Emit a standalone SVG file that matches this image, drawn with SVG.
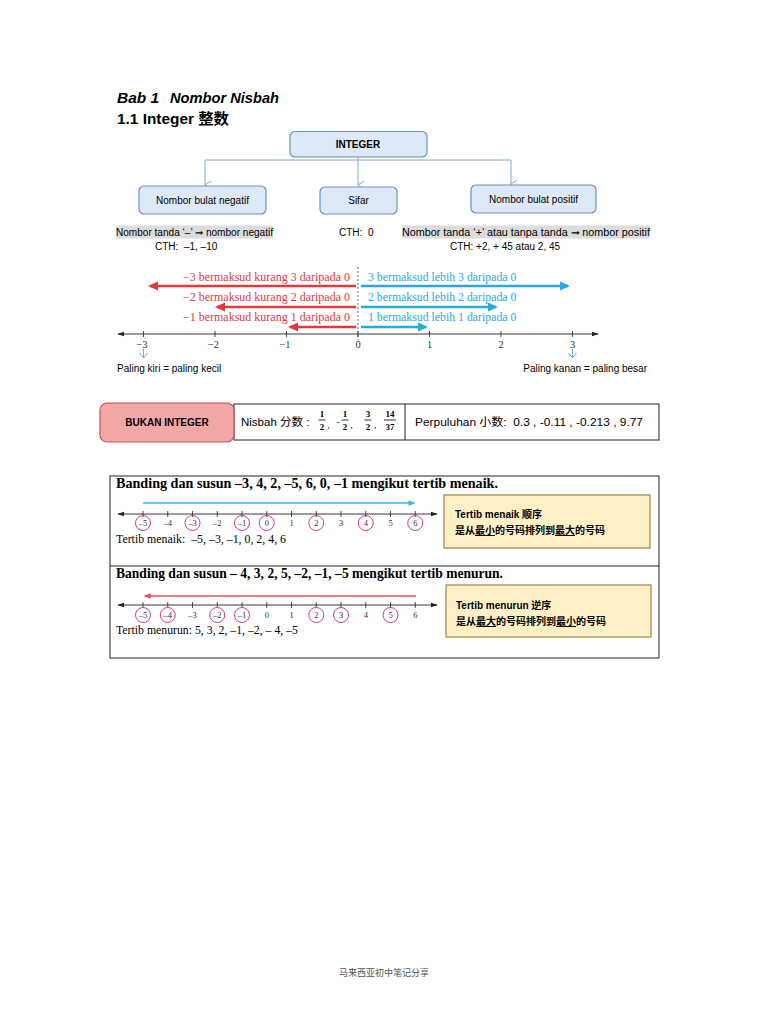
<svg xmlns="http://www.w3.org/2000/svg" width="768" height="1024" viewBox="0 0 768 1024">
<style>
.sans{font-family:"Liberation Sans",Arial,"Noto Sans CJK SC",sans-serif}
.serif{font-family:"Liberation Serif","Times New Roman","Noto Sans CJK SC",serif}
.cjk{font-family:"Liberation Sans","Noto Sans CJK SC",sans-serif}
.bluebox{fill:#dde9f6;stroke:#6a8fbd;stroke-width:1.2}
.conn{stroke:#7fa7d4;stroke-width:1;fill:none}
.axis{stroke:#222;stroke-width:0.9;fill:none}
.tick{stroke:#222;stroke-width:0.8}
.circ{fill:none;stroke:#c93f8f;stroke-width:1}
.ybox{fill:#fdf0c6;stroke:#a48c4e;stroke-width:1.3}
</style>
<defs>
<marker id="openarr" viewBox="0 0 10 10" refX="5" refY="9" markerWidth="10" markerHeight="10" markerUnits="userSpaceOnUse" orient="auto-start-reverse">
<path d="M1,3 L5,9 L9,3" fill="none" stroke="#7fa7d4" stroke-width="1"/>
</marker>
<marker id="ax" viewBox="0 0 10 10" refX="9" refY="5" markerWidth="7" markerHeight="7" markerUnits="userSpaceOnUse" orient="auto-start-reverse">
<path d="M0,1.5 L10,5 L0,8.5 Z" fill="#222"/>
</marker>
<marker id="redhead" viewBox="0 0 10 10" refX="8" refY="5" markerWidth="10" markerHeight="10" markerUnits="userSpaceOnUse" orient="auto">
<path d="M0,0.5 L10,5 L0,9.5 Z" fill="#e03a3e"/>
</marker>
<marker id="bluehead" viewBox="0 0 10 10" refX="8" refY="5" markerWidth="10" markerHeight="10" markerUnits="userSpaceOnUse" orient="auto">
<path d="M0,0.5 L10,5 L0,9.5 Z" fill="#2aa8df"/>
</marker>
<marker id="smallblue" viewBox="0 0 10 10" refX="8" refY="5" markerWidth="7" markerHeight="7" markerUnits="userSpaceOnUse" orient="auto">
<path d="M0,1 L10,5 L0,9 Z" fill="#3cb4dc"/>
</marker>
<marker id="smallred" viewBox="0 0 10 10" refX="8" refY="5" markerWidth="7" markerHeight="7" markerUnits="userSpaceOnUse" orient="auto">
<path d="M0,1 L10,5 L0,9 Z" fill="#e35050"/>
</marker>
</defs>
<rect width="768" height="1024" fill="#fff"/>

<!-- Titles -->
<text x="117" y="103" class="sans" font-size="15.5" font-weight="bold" font-style="italic">Bab 1</text>
<text x="170" y="103" class="sans" font-size="15.5" font-weight="bold" font-style="italic" textLength="109" lengthAdjust="spacingAndGlyphs">Nombor Nisbah</text>
<text x="117" y="124" class="cjk" font-size="15" font-weight="bold" textLength="112" lengthAdjust="spacingAndGlyphs">1.1 Integer 整数</text>

<!-- Connectors -->
<g id="connectors">
<path class="conn" d="M358,157 V160 M205,160 H511"/>
<path class="conn" d="M205,160 V185" marker-end="url(#openarr)"/>
<path class="conn" d="M358,160 V185" marker-end="url(#openarr)"/>
<path class="conn" d="M511,160 V184" marker-end="url(#openarr)"/>
</g>

<g id="node-integer">
<rect x="290" y="131.5" width="137" height="25.5" rx="5" class="bluebox"/>
<text x="358" y="148" text-anchor="middle" class="sans" font-size="10" font-weight="bold">INTEGER</text>
</g>
<g id="node-negatif">
<rect x="139" y="186" width="127" height="28" rx="5" class="bluebox"/>
<text x="202.5" y="203.5" text-anchor="middle" class="sans" font-size="10">Nombor bulat negatif</text>
</g>
<g id="node-sifar">
<rect x="320" y="187" width="77" height="27" rx="5" class="bluebox"/>
<text x="358.5" y="204" text-anchor="middle" class="sans" font-size="10">Sifar</text>
</g>
<g id="node-positif">
<rect x="471" y="185" width="125" height="28" rx="5" class="bluebox"/>
<text x="533.5" y="202.5" text-anchor="middle" class="sans" font-size="10">Nombor bulat positif</text>
</g>

<!-- descriptions -->
<g id="desc">
<rect x="116" y="225.5" width="157" height="13" fill="#dcdcdc"/>
<text x="116" y="236" class="sans" font-size="10" textLength="157" lengthAdjust="spacingAndGlyphs">Nombor tanda ‘–’ ➞ nombor negatif</text>
<text x="155" y="250" class="sans" font-size="10" xml:space="preserve">CTH:  –1, –10</text>
<text x="339" y="236" class="sans" font-size="10" xml:space="preserve">CTH:  0</text>
<rect x="402" y="225.5" width="248" height="13" fill="#dcdcdc"/>
<text x="402" y="236" class="sans" font-size="10" textLength="248" lengthAdjust="spacingAndGlyphs">Nombor tanda ‘+’ atau tanpa tanda ➞ nombor positif</text>
<text x="450" y="250" class="sans" font-size="10">CTH: +2, + 45 atau 2, 45</text>
</g>

<!-- number line meaning -->
<g id="numberline1">
<line x1="358" y1="267" x2="358" y2="340" stroke="#555" stroke-width="0.9" stroke-dasharray="2,2"/>
<g class="serif" font-size="12" fill="#e03a3e" text-anchor="end">
<text x="350" y="281">−3 bermaksud kurang 3 daripada 0</text>
<text x="350" y="301">−2 bermaksud kurang 2 daripada 0</text>
<text x="350" y="321">−1 bermaksud kurang 1 daripada 0</text>
</g>
<g class="serif" font-size="11.8" fill="#2aa8df">
<text x="368" y="281">3 bermaksud lebih 3 daripada 0</text>
<text x="368" y="301">2 bermaksud lebih 2 daripada 0</text>
<text x="368" y="321">1 bermaksud lebih 1 daripada 0</text>
</g>
<g stroke="#e03a3e" stroke-width="2.6">
<line x1="356" y1="286" x2="150" y2="286" marker-end="url(#redhead)"/>
<line x1="356" y1="307" x2="217" y2="307" marker-end="url(#redhead)"/>
<line x1="356" y1="327" x2="290" y2="327" marker-end="url(#redhead)"/>
</g>
<g stroke="#2aa8df" stroke-width="2.6">
<line x1="361" y1="286" x2="568" y2="286" marker-end="url(#bluehead)"/>
<line x1="361" y1="307" x2="496" y2="307" marker-end="url(#bluehead)"/>
<line x1="361" y1="327" x2="426" y2="327" marker-end="url(#bluehead)"/>
</g>
<line x1="118" y1="334" x2="598" y2="334" class="axis" marker-start="url(#ax)" marker-end="url(#ax)"/>
<g class="tick">
<line x1="143.5" y1="331" x2="143.5" y2="337"/>
<line x1="215" y1="331" x2="215" y2="337"/>
<line x1="286.5" y1="331" x2="286.5" y2="337"/>
<line x1="358" y1="331" x2="358" y2="337"/>
<line x1="429.5" y1="331" x2="429.5" y2="337"/>
<line x1="501" y1="331" x2="501" y2="337"/>
<line x1="572.5" y1="331" x2="572.5" y2="337"/>
</g>
<g class="serif" font-size="10.5" fill="#333" text-anchor="middle">
<text x="142" y="348">−3</text>
<text x="213.5" y="348">−2</text>
<text x="285" y="348">−1</text>
<text x="358" y="348">0</text>
<text x="429.5" y="348">1</text>
<text x="501" y="348">2</text>
<text x="572.5" y="348">3</text>
</g>
<g stroke="#7fa7d4" stroke-width="1" fill="none">
<path d="M143.5,349 V358 M139.5,353 L143.5,358 L147.5,353"/>
<path d="M572.5,349 V358 M568.5,353 L572.5,358 L576.5,353"/>
</g>
<text x="117" y="372" class="sans" font-size="10">Paling kiri = paling kecil</text>
<text x="647" y="372" class="sans" font-size="10" text-anchor="end">Paling kanan = paling besar</text>
</g>

<!-- Bukan integer -->
<g id="node-bukan">
<rect x="234" y="404" width="425" height="36" fill="#fff" stroke="#222" stroke-width="1"/>
<line x1="405" y1="404" x2="405" y2="440" stroke="#222" stroke-width="1"/>
<rect x="100" y="403" width="134" height="39" rx="7" fill="#f3a7a6" stroke="#c2504f" stroke-width="1.2"/>
<text x="167" y="426" text-anchor="middle" class="sans" font-size="10" font-weight="bold">BUKAN INTEGER</text>
<text x="241" y="426" class="cjk" font-size="11.5">Nisbah 分数 :</text>
<g class="serif" font-size="9" font-weight="bold" text-anchor="middle">
<text x="322" y="417">1</text><line x1="318.5" y1="420" x2="325.5" y2="420" stroke="#000" stroke-width="0.8"/><text x="322" y="430">2</text>
<text x="328.5" y="428" font-weight="normal">,</text>
<text x="338" y="425" font-weight="normal">-</text>
<text x="345" y="417">1</text><line x1="341.5" y1="420" x2="348.5" y2="420" stroke="#000" stroke-width="0.8"/><text x="345" y="430">2</text>
<text x="351.5" y="428" font-weight="normal">,</text>
<text x="368" y="417">3</text><line x1="364.5" y1="420" x2="371.5" y2="420" stroke="#000" stroke-width="0.8"/><text x="368" y="430">2</text>
<text x="375" y="428" font-weight="normal">,</text>
<text x="390" y="417">14</text><line x1="384" y1="420" x2="396" y2="420" stroke="#000" stroke-width="0.8"/><text x="390" y="430">37</text>
</g>
<text x="415" y="426" class="cjk" font-size="11.5" xml:space="preserve" textLength="228" lengthAdjust="spacingAndGlyphs">Perpuluhan 小数:  0.3 , -0.11 , -0.213 , 9.77</text>
</g>

<!-- Lower box -->
<g id="node-susun">
<rect x="110" y="476" width="549" height="182" fill="none" stroke="#222" stroke-width="1"/>
<line x1="110" y1="566" x2="659" y2="566" stroke="#222" stroke-width="1"/>
</g>

<g id="menaik">
<text x="116" y="488" class="serif" font-size="14" font-weight="bold" textLength="382" lengthAdjust="spacingAndGlyphs">Banding dan susun –3, 4, 2, –5, 6, 0, –1 mengikut tertib menaik.</text>
<line x1="143" y1="503" x2="414" y2="503" stroke="#3cb4dc" stroke-width="1.5" marker-end="url(#smallblue)"/>
<line x1="118" y1="514" x2="437" y2="514" class="axis" marker-start="url(#ax)" marker-end="url(#ax)"/>
<g class="tick">
<line x1="143" y1="511" x2="143" y2="517"/><line x1="167.75" y1="511" x2="167.75" y2="517"/><line x1="192.5" y1="511" x2="192.5" y2="517"/><line x1="217.25" y1="511" x2="217.25" y2="517"/><line x1="242" y1="511" x2="242" y2="517"/><line x1="266.75" y1="511" x2="266.75" y2="517"/><line x1="291.5" y1="511" x2="291.5" y2="517"/><line x1="316.25" y1="511" x2="316.25" y2="517"/><line x1="341" y1="511" x2="341" y2="517"/><line x1="365.75" y1="511" x2="365.75" y2="517"/><line x1="390.5" y1="511" x2="390.5" y2="517"/><line x1="415.25" y1="511" x2="415.25" y2="517"/>
</g>
<g class="circ">
<circle cx="143" cy="523" r="7.5"/><circle cx="192.5" cy="523" r="7.5"/><circle cx="242" cy="523" r="7.5"/><circle cx="266.75" cy="523" r="7.5"/><circle cx="316.25" cy="523" r="7.5"/><circle cx="365.75" cy="523" r="7.5"/><circle cx="415.25" cy="523" r="7.5"/>
</g>
<g class="serif" font-size="8.5" fill="#333" text-anchor="middle">
<text x="143" y="526">–5</text><text x="167.75" y="526">–4</text><text x="192.5" y="526">–3</text><text x="217.25" y="526">–2</text><text x="242" y="526">–1</text><text x="266.75" y="526">0</text><text x="291.5" y="526">1</text><text x="316.25" y="526">2</text><text x="341" y="526">3</text><text x="365.75" y="526">4</text><text x="390.5" y="526">5</text><text x="415.25" y="526">6</text>
</g>
<text x="116" y="543" class="serif" font-size="11.5" xml:space="preserve" textLength="170" lengthAdjust="spacingAndGlyphs">Tertib menaik:  –5, –3, –1, 0, 2, 4, 6</text>
</g>
<g id="note-menaik">
<rect x="444" y="495" width="206" height="53" class="ybox"/>
<text x="455" y="518" class="cjk" font-size="10" font-weight="bold">Tertib menaik 顺序</text>
<text x="455" y="534" class="cjk" font-size="10" font-weight="bold">是从<tspan text-decoration="underline">最小</tspan>的号码排列到<tspan text-decoration="underline">最大</tspan>的号码</text>
</g>

<g id="menurun">
<text x="116" y="578" class="serif" font-size="14" font-weight="bold" textLength="387" lengthAdjust="spacingAndGlyphs">Banding dan susun – 4, 3, 2, 5, –2, –1, –5 mengikut tertib menurun.</text>
<line x1="416" y1="596" x2="145" y2="596" stroke="#e35050" stroke-width="1.3" marker-end="url(#smallred)"/>
<line x1="118" y1="605" x2="437" y2="605" class="axis" marker-start="url(#ax)" marker-end="url(#ax)"/>
<g class="tick">
<line x1="143" y1="602" x2="143" y2="608"/><line x1="167.75" y1="602" x2="167.75" y2="608"/><line x1="192.5" y1="602" x2="192.5" y2="608"/><line x1="217.25" y1="602" x2="217.25" y2="608"/><line x1="242" y1="602" x2="242" y2="608"/><line x1="266.75" y1="602" x2="266.75" y2="608"/><line x1="291.5" y1="602" x2="291.5" y2="608"/><line x1="316.25" y1="602" x2="316.25" y2="608"/><line x1="341" y1="602" x2="341" y2="608"/><line x1="365.75" y1="602" x2="365.75" y2="608"/><line x1="390.5" y1="602" x2="390.5" y2="608"/><line x1="415.25" y1="602" x2="415.25" y2="608"/>
</g>
<g class="circ">
<circle cx="143" cy="615" r="7.5"/><circle cx="167.75" cy="615" r="7.5"/><circle cx="217.25" cy="615" r="7.5"/><circle cx="242" cy="615" r="7.5"/><circle cx="316.25" cy="615" r="7.5"/><circle cx="341" cy="615" r="7.5"/><circle cx="390.5" cy="615" r="7.5"/>
</g>
<g class="serif" font-size="8.5" fill="#333" text-anchor="middle">
<text x="143" y="618">–5</text><text x="167.75" y="618">–4</text><text x="192.5" y="618">–3</text><text x="217.25" y="618">–2</text><text x="242" y="618">–1</text><text x="266.75" y="618">0</text><text x="291.5" y="618">1</text><text x="316.25" y="618">2</text><text x="341" y="618">3</text><text x="365.75" y="618">4</text><text x="390.5" y="618">5</text><text x="415.25" y="618">6</text>
</g>
<text x="116" y="634" class="serif" font-size="11.5" textLength="182" lengthAdjust="spacingAndGlyphs">Tertib menurun: 5, 3, 2, –1, –2, – 4, –5</text>
</g>
<g id="note-menurun">
<rect x="446" y="585" width="205" height="52" class="ybox"/>
<text x="456" y="609" class="cjk" font-size="10" font-weight="bold">Tertib menurun 逆序</text>
<text x="456" y="625" class="cjk" font-size="10" font-weight="bold">是从<tspan text-decoration="underline">最大</tspan>的号码排列到<tspan text-decoration="underline">最小</tspan>的号码</text>
</g>

<text x="384" y="976" text-anchor="middle" class="cjk" font-size="9" fill="#555">马来西亚初中笔记分享</text>
</svg>
